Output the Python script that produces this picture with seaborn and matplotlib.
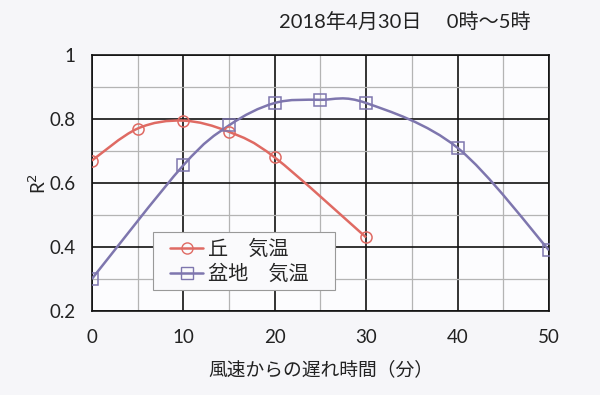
import matplotlib.pyplot as plt
import numpy as np
import pandas as pd
import seaborn as sns
from matplotlib.lines import Line2D
from matplotlib.patches import PathPatch, Rectangle
from matplotlib.path import Path
from matplotlib.ticker import MultipleLocator

# data
hill_x = [0, 5, 10, 15, 20, 30]
hill_r2 = [0.67, 0.77, 0.795, 0.76, 0.68, 0.43]
basin_x = [0, 10, 15, 20, 25, 30, 40, 50]
basin_r2 = [0.30, 0.655, 0.78, 0.85, 0.86, 0.85, 0.71, 0.39]

hill_label = "丘\u3000気温"
basin_label = "盆地\u3000気温"
title = "2018年4月30日\u3000 0時～5時"
xlabel = "風速からの遅れ時間（分）"
x_ticks = [0, 10, 20, 30, 40, 50]
y_ticks = [0.2, 0.4, 0.6, 0.8, 1.0]
y_tick_labels = ["0.2", "0.4", "0.6", "0.8", "1"]

RED = "#df6a63"
PURPLE = "#7e76ae"

sns.set_theme(style="white")
plt.rcParams["font.family"] = ["Lato", "Noto Sans CJK JP", "DejaVu Sans"]


def smooth_path(xs, ys):
    """Excel-like smoothed line: Catmull-Rom as cubic Bezier segments."""
    pts = np.column_stack([xs, ys]).astype(float)
    ext = np.vstack([pts[0], pts, pts[-1]])
    verts = [pts[0]]
    codes = [Path.MOVETO]
    for i in range(1, len(ext) - 2):
        p0, p1, p2, p3 = ext[i - 1], ext[i], ext[i + 1], ext[i + 2]
        verts += [p1 + (p2 - p0) / 6, p2 - (p3 - p1) / 6, p2]
        codes += [Path.CURVE4] * 3
    return Path(verts, codes)


fig = plt.figure(figsize=(6, 3.95), dpi=100, facecolor="#f6f6f9")
ax = fig.add_axes([0.153, 0.2127, 0.762, 0.648])
ax.set_facecolor("#fcfcfe")

hill = pd.DataFrame({"x": hill_x, "r2": hill_r2})
basin = pd.DataFrame({"x": basin_x, "r2": basin_r2})

for df, c, m in [(hill, RED, "o"), (basin, PURPLE, "s")]:
    ax.add_patch(PathPatch(smooth_path(df["x"], df["r2"]), fill=False,
                           edgecolor=c, lw=1.8, zorder=3))
    sns.lineplot(data=df, x="x", y="r2", ax=ax, linestyle="", marker=m,
                 markersize=8, markerfacecolor="none",
                 markeredgecolor=c, markeredgewidth=1.1, zorder=4)

ax.set_xlim(0, 50)
ax.set_ylim(0.2, 1.0)
ax.set_xticks(x_ticks)
ax.set_yticks(y_ticks)
ax.set_yticklabels(y_tick_labels)
ax.xaxis.set_minor_locator(MultipleLocator(5))
ax.yaxis.set_minor_locator(MultipleLocator(0.1))
ax.grid(which="major", color="#111111", lw=1.2)
ax.grid(which="minor", color="#b4b4b4", lw=0.9)
ax.set_axisbelow(True)
ax.tick_params(which="both", length=0, labelsize=13.5, colors="#222222")
ax.tick_params(axis="x", pad=13)
ax.tick_params(axis="y", pad=12)
for s in ax.spines.values():
    s.set_color("#111111")
    s.set_linewidth(1.2)

ax.set_xlabel(xlabel, fontsize=13.5, labelpad=10, color="#222222")
ax.set_ylabel("R$^2$", fontsize=13.5, labelpad=0, color="#222222")
fig.text(405 / 600, 1 - 22 / 395, title, ha="center", va="center",
         fontsize=14.5, color="#222222")

# legend box drawn separately so its padding matches the reference
ax.add_patch(Rectangle((0.1335, 0.082), 0.398, 0.227, transform=ax.transAxes,
                       facecolor="#fafafc", edgecolor="#999999", lw=0.8,
                       zorder=5))
handles = [
    Line2D([], [], color=RED, lw=1.8, marker="o", markerfacecolor="none",
           markeredgecolor=RED, markersize=8),
    Line2D([], [], color=PURPLE, lw=1.8, marker="s", markerfacecolor="none",
           markeredgecolor=PURPLE, markersize=8),
]
leg = ax.legend(handles, [hill_label, basin_label], loc="center left",
                bbox_to_anchor=(0.172, 0.1955), fontsize=14.5, frameon=False,
                handlelength=1.6, handletextpad=0.25, borderpad=0,
                borderaxespad=0, labelspacing=0.3)
leg.set_zorder(6)

fig.savefig("out.png", dpi=100, facecolor=fig.get_facecolor())
